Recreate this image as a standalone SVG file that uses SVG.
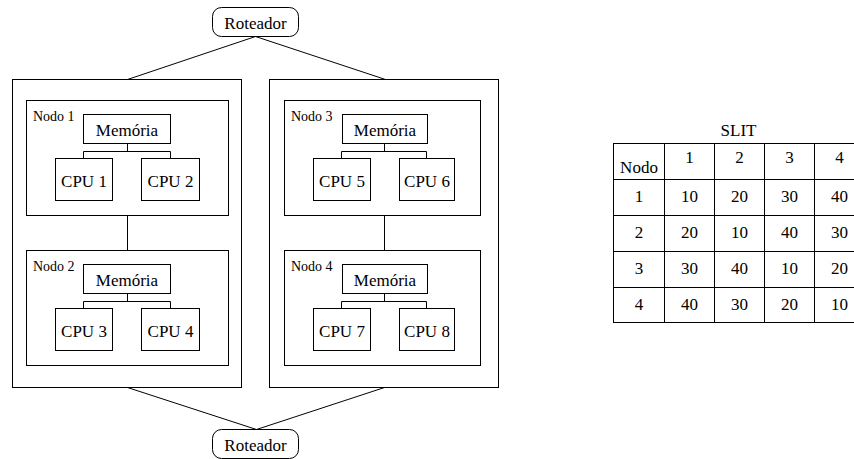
<svg xmlns="http://www.w3.org/2000/svg" width="854" height="459" viewBox="0 0 854 459">
<style>
  .b{fill:#fff;stroke:#000;stroke-width:1}
  .o{fill:none;stroke:#000;stroke-width:1}
  .l{fill:none;stroke:#000;stroke-width:1}
  .t{font-size:17px;text-anchor:middle;fill:#000}
  .s{font-size:14px;fill:#000}
</style>
<rect width="854" height="459" fill="#fff"/>
<g id="system-left">
  <rect class="o" x="12.5" y="79.5" width="229" height="308"/>
</g>
<g id="system-right">
  <rect class="o" x="269.5" y="79.5" width="229" height="308"/>
</g>
<g id="connectors">
  <path class="l" d="M255.5,36.5 L127.5,79.5 M255.5,36.5 L385.5,79.5"/>
  <path class="l" d="M127.5,387.5 L256.5,429.5 M384.5,387.5 L256.5,429.5"/>
  <path class="l" d="M127.5,215.5 V250.5 M384.5,215.5 V250.5"/>
</g>
<g id="router-top">
  <rect class="b" x="212.5" y="7.5" width="86" height="29" rx="9"/>
  <text class="t" font-family="Liberation Serif" x="255.5" y="29">Roteador</text>
</g>
<g id="router-bottom">
  <rect class="b" x="212.5" y="429.5" width="86" height="29" rx="9"/>
  <text class="t" font-family="Liberation Serif" x="255.5" y="451">Roteador</text>
</g>
<g id="nodo1">
  <rect class="b" x="26.5" y="100.5" width="202" height="115"/>
  <text class="s" font-family="Liberation Serif" x="33" y="121">Nodo 1</text>
  <rect class="b" x="83.5" y="114.5" width="87" height="29"/>
  <text class="t" font-family="Liberation Serif" x="127" y="136">Memória</text>
  <path class="l" d="M127.5,143.5 V151.5 M83.5,151.5 H170.5 M83.5,151.5 V158.5 M170.5,151.5 V158.5"/>
  <rect class="b" x="55.5" y="158.5" width="57" height="42"/>
  <text class="t" font-family="Liberation Serif" x="84" y="187">CPU 1</text>
  <rect class="b" x="141.5" y="158.5" width="58" height="42"/>
  <text class="t" font-family="Liberation Serif" x="170.5" y="187">CPU 2</text>
</g>
<g id="nodo2">
  <rect class="b" x="26.5" y="250.5" width="202" height="115"/>
  <text class="s" font-family="Liberation Serif" x="33" y="271">Nodo 2</text>
  <rect class="b" x="83.5" y="264.5" width="87" height="29"/>
  <text class="t" font-family="Liberation Serif" x="127" y="286">Memória</text>
  <path class="l" d="M127.5,293.5 V301.5 M83.5,301.5 H170.5 M83.5,301.5 V308.5 M170.5,301.5 V308.5"/>
  <rect class="b" x="55.5" y="308.5" width="57" height="42"/>
  <text class="t" font-family="Liberation Serif" x="84" y="337">CPU 3</text>
  <rect class="b" x="141.5" y="308.5" width="58" height="42"/>
  <text class="t" font-family="Liberation Serif" x="170.5" y="337">CPU 4</text>
</g>
<g id="nodo3">
  <rect class="b" x="284.5" y="100.5" width="196" height="115"/>
  <text class="s" font-family="Liberation Serif" x="291" y="121">Nodo 3</text>
  <rect class="b" x="342.5" y="114.5" width="85" height="29"/>
  <text class="t" font-family="Liberation Serif" x="385" y="136">Memória</text>
  <path class="l" d="M384.5,143.5 V151.5 M341.5,151.5 H426.5 M341.5,151.5 V158.5 M426.5,151.5 V158.5"/>
  <rect class="b" x="313.5" y="158.5" width="57" height="42"/>
  <text class="t" font-family="Liberation Serif" x="342" y="187">CPU 5</text>
  <rect class="b" x="399.5" y="158.5" width="55" height="42"/>
  <text class="t" font-family="Liberation Serif" x="427" y="187">CPU 6</text>
</g>
<g id="nodo4">
  <rect class="b" x="284.5" y="250.5" width="196" height="115"/>
  <text class="s" font-family="Liberation Serif" x="291" y="271">Nodo 4</text>
  <rect class="b" x="342.5" y="264.5" width="85" height="29"/>
  <text class="t" font-family="Liberation Serif" x="385" y="286">Memória</text>
  <path class="l" d="M384.5,293.5 V301.5 M341.5,301.5 H426.5 M341.5,301.5 V308.5 M426.5,301.5 V308.5"/>
  <rect class="b" x="313.5" y="308.5" width="57" height="42"/>
  <text class="t" font-family="Liberation Serif" x="342" y="337">CPU 7</text>
  <rect class="b" x="399.5" y="308.5" width="55" height="42"/>
  <text class="t" font-family="Liberation Serif" x="427" y="337">CPU 8</text>
</g>
<g id="slit-table" font-family="Liberation Serif">
  <text class="t" font-family="Liberation Serif" x="738.5" y="136">SLIT</text>
  <rect class="b" x="613.5" y="143.5" width="252" height="179"/>
  <path class="l" d="M664.5,143.5 V322.5 M714.5,143.5 V322.5 M764.5,143.5 V322.5 M814.5,143.5 V322.5 M613.5,179.5 H865 M613.5,215.5 H865 M613.5,251.5 H865 M613.5,287.5 H865"/>
  <text class="t" font-family="Liberation Serif" x="639" y="173">Nodo</text>
  <text class="t" font-family="Liberation Serif" x="689.5" y="163">1</text>
  <text class="t" font-family="Liberation Serif" x="739.5" y="163">2</text>
  <text class="t" font-family="Liberation Serif" x="789.5" y="163">3</text>
  <text class="t" font-family="Liberation Serif" x="839.5" y="163">4</text>
  <text class="t" font-family="Liberation Serif" x="639" y="202">1</text>
  <text class="t" font-family="Liberation Serif" x="689.5" y="202">10</text>
  <text class="t" font-family="Liberation Serif" x="739.5" y="202">20</text>
  <text class="t" font-family="Liberation Serif" x="789.5" y="202">30</text>
  <text class="t" font-family="Liberation Serif" x="839.5" y="202">40</text>
  <text class="t" font-family="Liberation Serif" x="639" y="238">2</text>
  <text class="t" font-family="Liberation Serif" x="689.5" y="238">20</text>
  <text class="t" font-family="Liberation Serif" x="739.5" y="238">10</text>
  <text class="t" font-family="Liberation Serif" x="789.5" y="238">40</text>
  <text class="t" font-family="Liberation Serif" x="839.5" y="238">30</text>
  <text class="t" font-family="Liberation Serif" x="639" y="274">3</text>
  <text class="t" font-family="Liberation Serif" x="689.5" y="274">30</text>
  <text class="t" font-family="Liberation Serif" x="739.5" y="274">40</text>
  <text class="t" font-family="Liberation Serif" x="789.5" y="274">10</text>
  <text class="t" font-family="Liberation Serif" x="839.5" y="274">20</text>
  <text class="t" font-family="Liberation Serif" x="639" y="310">4</text>
  <text class="t" font-family="Liberation Serif" x="689.5" y="310">40</text>
  <text class="t" font-family="Liberation Serif" x="739.5" y="310">30</text>
  <text class="t" font-family="Liberation Serif" x="789.5" y="310">20</text>
  <text class="t" font-family="Liberation Serif" x="839.5" y="310">10</text>
</g>
</svg>
